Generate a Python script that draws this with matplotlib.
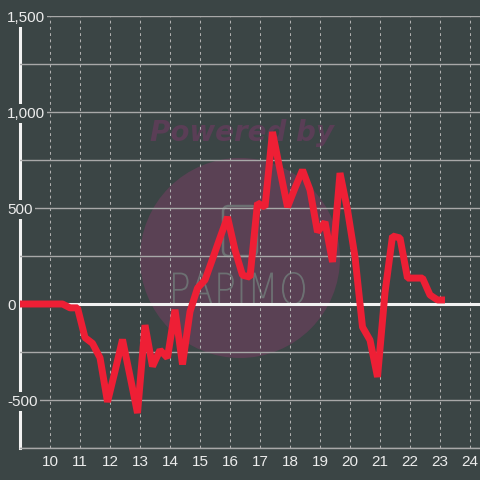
import matplotlib.pyplot as plt
from matplotlib.patches import Circle, FancyBboxPatch, PathPatch
from matplotlib.textpath import TextPath
from matplotlib.font_manager import FontProperties
from matplotlib.transforms import Affine2D

# data: one reading every 15 minutes, first one at 8:55
start_hour = 8 + 55 / 60
step = 0.25
values = [0, 0, 0, 0, 0, 0, 0, -20, -20, -175,
          -205, -280, -510, -350, -185, -375, -568, -110, -325, -240,
          -280, -30, -315, -40, 83, 125, 234, 345, 453, 281,
          150, 140, 526, 505, 896, 698, 505, 604, 698, 594,
          375, 427, 219, 682, 490, 245, -120, -188, -380, 60,
          354, 344, 135, 135, 135, 47, 21, 21]
hours = [start_hour + step * i for i in range(len(values))]

x_ticks = list(range(10, 25))
y_ticks = [-500, 0, 500, 1000, 1500]
y_minor = [-750, -250, 250, 750, 1250]

bg = '#3b4545'
txt = '#ececec'

fig = plt.figure(figsize=(4.8, 4.8), dpi=100, facecolor=bg)
ax = fig.add_axes([20/480, 32/480, 460/480, 432/480], facecolor=bg)
ax.set_axisbelow(True)

# watermark
circ = Circle((240/480, 222/480), 100/480, transform=fig.transFigure,
              facecolor='#5a4154', edgecolor='none', zorder=0.1, clip_on=False)
ax.add_patch(circ)
ax.text(242/480, 347/480, 'Powered by', transform=fig.transFigure,
        ha='center', va='center', fontsize=20, fontweight='bold',
        fontstyle='italic', family='DejaVu Sans', color='#5a3e56', zorder=0.2)
cam = FancyBboxPatch((223/480, 224/480), 34/480, 50/480,
                     boxstyle='round,pad=0,rounding_size=0.012',
                     transform=fig.transFigure, facecolor='none',
                     edgecolor='#6c7072', lw=1.8, zorder=0.2, clip_on=False)
ax.add_patch(cam)
tp = TextPath((0, 0), 'PAPIMO', size=1, prop=FontProperties(family='DejaVu Sans', weight='light'))
ext = tp.get_extents()
tr = Affine2D().translate(-ext.x0, -ext.y0).scale(132/ext.width, 33/ext.height).translate(173, 175)
ax.add_patch(PathPatch(tr.transform_path(tp), transform=None, facecolor='#6c7072',
                       edgecolor='none', zorder=0.2, clip_on=False))

ax.plot(hours, values, color='#ee1f35', lw=5, solid_joinstyle='bevel',
        solid_capstyle='butt', zorder=3)
ax.axhline(0, color='#f2f2f2', lw=2.2, zorder=2)

ax.set_xlim(9, 24 + 1/3)
ax.set_ylim(-750, 1500)
ax.set_xticks(x_ticks)
ax.set_xticklabels([str(t) for t in x_ticks])
ax.set_yticks(y_ticks)
ax.set_yticklabels([f'{v:,}' for v in y_ticks])
ax.set_yticks(y_minor, minor=True)

ax.grid(axis='y', which='both', color='#a8a8a8', lw=1)
ax.grid(axis='x', color='#b0b0b0', lw=0.75, linestyle=(0, (2.7, 3.3)))

ax.tick_params(axis='both', which='both', length=0, labelsize=11, labelcolor=txt)
ax.tick_params(axis='x', pad=5)
ax.tick_params(axis='y', pad=9.4)
for lab in ax.get_yticklabels():
    lab.set_horizontalalignment('left')
    lab.set_family('Liberation Sans')
    lab.set_bbox(dict(facecolor=bg, edgecolor='none', pad=1.5))
for lab in ax.get_xticklabels():
    lab.set_family('Liberation Sans')

for s in ['top', 'right']:
    ax.spines[s].set_visible(False)
ax.spines['bottom'].set_color('#a8a8a8')
ax.spines['bottom'].set_linewidth(1)
ax.spines['left'].set_color('#f2f2f2')
ax.spines['left'].set_linewidth(2.2)
# labels sit on top of the left spine like in the original
ax.spines['left'].set_zorder(0.4)
ax.spines['bottom'].set_zorder(0.4)

fig.savefig('out.png', dpi=100, facecolor=bg)
